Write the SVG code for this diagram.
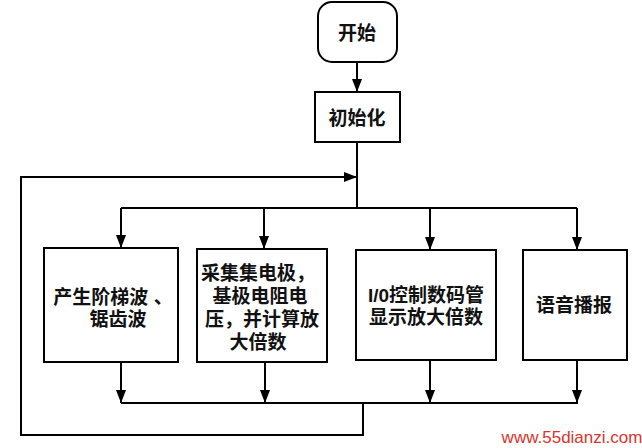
<svg xmlns="http://www.w3.org/2000/svg" width="642" height="448" viewBox="0 0 642 448">
<style>
.box{fill:#fff;stroke:#000;stroke-width:2}
.ln{fill:none;stroke:#000;stroke-width:2}
.t{font-family:"Liberation Sans","Noto Sans CJK SC",sans-serif;font-size:19px;font-weight:bold;fill:#111;text-anchor:middle;dominant-baseline:central}
.wm{font-family:"Liberation Sans",Arial,sans-serif;font-size:17px;fill:#d9342b;text-anchor:middle;dominant-baseline:central}
</style>
<defs>
<marker id="ah" markerUnits="userSpaceOnUse" markerWidth="14" markerHeight="12" refX="13" refY="5" orient="auto">
<path d="M0,0 L13,5 L0,10 Z" fill="#000"/>
</marker>
</defs>
<rect width="642" height="448" fill="#fff"/>
<g id="connectors">
<line class="ln" x1="357" y1="62" x2="357" y2="92" marker-end="url(#ah)"/>
<line class="ln" x1="357" y1="142" x2="357" y2="208"/>
<polyline class="ln" points="121,208 577,208"/>
<line class="ln" x1="121" y1="208" x2="121" y2="248" marker-end="url(#ah)"/>
<line class="ln" x1="264" y1="208" x2="264" y2="249" marker-end="url(#ah)"/>
<line class="ln" x1="430" y1="208" x2="430" y2="250" marker-end="url(#ah)"/>
<line class="ln" x1="577" y1="208" x2="577" y2="250" marker-end="url(#ah)"/>
<line class="ln" x1="121" y1="362" x2="121" y2="403" marker-end="url(#ah)"/>
<line class="ln" x1="265" y1="362" x2="265" y2="403" marker-end="url(#ah)"/>
<line class="ln" x1="430" y1="360" x2="430" y2="403" marker-end="url(#ah)"/>
<line class="ln" x1="577" y1="360" x2="577" y2="403" marker-end="url(#ah)"/>
<polyline class="ln" points="121,403 578,403"/>
<polyline class="ln" points="363,403 363,435 21,435 21,177 357,177" marker-end="url(#ah)"/>
</g>
<g id="start">
<rect class="box" x="318" y="2" width="79" height="60" rx="14"/>
<text class="t" x="357" y="33">开始</text>
</g>
<g id="init">
<rect class="box" x="315" y="92" width="85" height="50"/>
<text class="t" x="357" y="118">初始化</text>
</g>
<g id="wave">
<rect class="box" x="44" y="248" width="134" height="114"/>
<text class="t" x="113" y="297">产生阶梯波 、</text>
<text class="t" x="118" y="319">锯齿波</text>
</g>
<g id="collect">
<rect class="box" x="197" y="249" width="130" height="113"/>
<text class="t" x="258" y="273">采集集电极，</text>
<text class="t" x="260" y="296">基极电阻电</text>
<text class="t" x="262" y="319">压，并计算放</text>
<text class="t" x="258" y="342">大倍数</text>
</g>
<g id="display">
<rect class="box" x="356" y="250" width="140" height="110"/>
<text class="t" x="426" y="295">I/0控制数码管</text>
<text class="t" x="426" y="317">显示放大倍数</text>
</g>
<g id="voice">
<rect class="box" x="523" y="250" width="104" height="110"/>
<text class="t" x="574" y="305">语音播报</text>
</g>
<text class="wm" x="572" y="437">www.55dianzi.com</text>
</svg>
